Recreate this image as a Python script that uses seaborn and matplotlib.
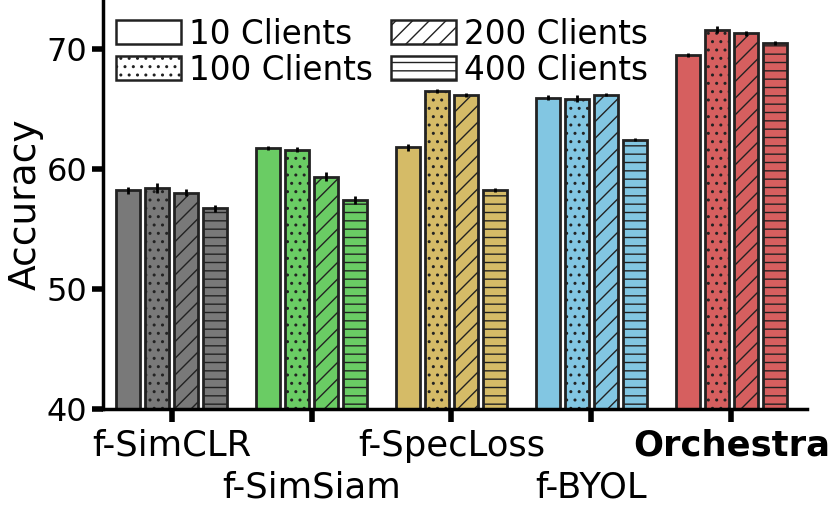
import numpy as np
import pandas as pd
import seaborn as sns
import matplotlib as mpl
import matplotlib.pyplot as plt
import matplotlib.patches as mpatches

mpl.rcParams['font.family'] = 'DejaVu Sans'
mpl.rcParams['hatch.linewidth'] = 1.0

methods = ['f-SimCLR', 'f-SimSiam', 'f-SpecLoss', 'f-BYOL', 'Orchestra']
clients = ['10 Clients', '100 Clients', '200 Clients', '400 Clients']

# accuracy per method, one list per client count
acc_10 = [58.2, 61.75, 61.8, 65.95, 69.5]
acc_100 = [58.4, 61.6, 66.5, 65.85, 71.6]
acc_200 = [58.0, 59.35, 66.15, 66.2, 71.3]
acc_400 = [56.7, 57.4, 58.25, 62.45, 70.5]

err_10 = [0.3, 0.2, 0.3, 0.2, 0.2]
err_100 = [0.4, 0.2, 0.15, 0.3, 0.3]
err_200 = [0.3, 0.4, 0.15, 0.15, 0.2]
err_400 = [0.3, 0.35, 0.15, 0.15, 0.2]

method_colors = ['#797979', '#6acc64', '#d5bb67', '#82c6e2', '#d65f5f']
hatches = ['', '..', '//', '--']

df = pd.DataFrame({
    'Method': methods * 4,
    'Clients': np.repeat(clients, len(methods)),
    'Accuracy': acc_10 + acc_100 + acc_200 + acc_400,
})
errs = [err_10, err_100, err_200, err_400]

fig, ax = plt.subplots(figsize=(8.31, 5.11), dpi=100)
fig.subplots_adjust(left=0.124, right=0.971, bottom=0.2, top=1.0)

sns.barplot(df, x='Method', y='Accuracy', hue='Clients', order=methods, hue_order=clients,
            palette=['white'] * 4, width=0.83, gap=0.17, errorbar=None,
            edgecolor='#222222', linewidth=2.0, legend=False, ax=ax)

bar_conts = list(ax.containers)
for i, cont in enumerate(bar_conts):
    xs, ys = [], []
    for j, bar in enumerate(cont):
        bar.set_facecolor(method_colors[j])
        bar.set_hatch(hatches[i])
        xs.append(bar.get_x() + bar.get_width() / 2)
        ys.append(bar.get_height())
    ax.errorbar(xs, ys, yerr=errs[i], fmt='none', ecolor='black', elinewidth=2, capsize=0, zorder=5)

ax.set_ylim(40, 74.08)
ax.set_xlim(-0.49, 4.54)
ax.set_yticks([40, 50, 60, 70])
ax.set_ylabel('Accuracy', fontsize=27, labelpad=2)
ax.set_xlabel('')
ax.tick_params(axis='y', labelsize=23, length=8, width=4)
ax.tick_params(axis='x', labelsize=25.5, length=9, width=4, pad=5.5)
for s in ['left', 'bottom']:
    ax.spines[s].set_linewidth(2.5)
sns.despine(ax=ax)

ticks = ax.xaxis.get_major_ticks()
for k, t in enumerate(ticks):
    if k % 2 == 1:
        t.set_pad(5.5 + 30)
ax.get_xticklabels()[-1].set_fontweight('bold')

handles = [mpatches.Patch(facecolor='white', edgecolor='#222222', linewidth=1.8, hatch=h)
           for h in hatches]
ax.legend(handles, clients, loc='upper left', bbox_to_anchor=(-0.01, 1.005), ncol=2,
          frameon=False, fontsize=23.5, handlelength=2.0, handleheight=0.75,
          handletextpad=0.25, columnspacing=0.55, labelspacing=0.1, borderaxespad=0.2)

fig.savefig('out.png', dpi=100)
